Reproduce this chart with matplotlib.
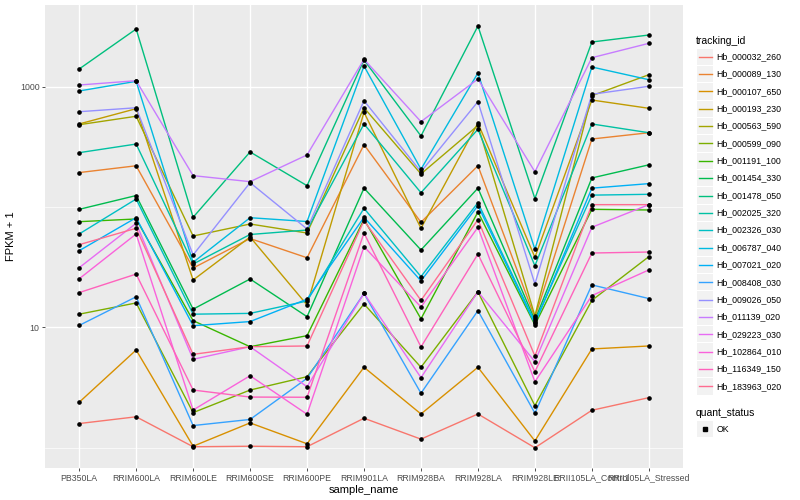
import numpy as np
import matplotlib
matplotlib.use("Agg")
import matplotlib.pyplot as plt
from matplotlib.lines import Line2D
from matplotlib.patches import Rectangle

plt.rcParams['font.family'] = ['Liberation Sans', 'DejaVu Sans']

samples = ["PB350LA", "RRIM600LA", "RRIM600LE", "RRIM600SE", "RRIM600PE",
           "RRIM901LA", "RRIM928BA", "RRIM928LA", "RRIM928LE",
           "RRII105LA_Control", "RRII105LA_Stressed"]

tracking_ids = ["Hb_000032_260", "Hb_000089_130", "Hb_000107_650", "Hb_000193_230",
                "Hb_000563_590", "Hb_000599_090", "Hb_001191_100", "Hb_001454_330",
                "Hb_001478_050", "Hb_002025_320", "Hb_002326_030", "Hb_006787_040",
                "Hb_007021_020", "Hb_008408_030", "Hb_009026_050", "Hb_011139_020",
                "Hb_029223_030", "Hb_102864_010", "Hb_116349_150", "Hb_183963_020"]

colors = ["#F8766D", "#EA8331", "#D89000", "#C09B00", "#A3A500", "#7CAE00", "#39B600",
          "#00BB4E", "#00BF7D", "#00C1A3", "#00BFC4", "#00BAE0", "#00B0F6", "#35A2FF",
          "#9590FF", "#C77CFF", "#E76BF3", "#FA62DB", "#FF62BC", "#FF6C91"]

# FPKM + 1 per sample (same order as samples)
hb_000032_260 = [1.59, 1.81, 1.02, 1.03, 1.02, 1.76, 1.18, 1.91, 1.00, 2.05, 2.61]
hb_000089_130 = [194, 221, 31.2, 54.9, 38.0, 331, 74.9, 221, 12.1, 369, 416]
hb_000107_650 = [2.39, 6.50, 1.03, 1.61, 1.08, 4.67, 1.91, 4.67, 1.14, 6.63, 7.02]
hb_000193_230 = [492, 659, 24.8, 56.5, 15.4, 615, 66.8, 501, 38.3, 778, 664]
hb_000563_590 = [485, 570, 57.6, 72.5, 61.0, 671, 189, 478, 12.5, 845, 1263]
hb_000599_090 = [12.9, 16.0, 1.96, 3.02, 3.90, 15.7, 4.67, 19.8, 2.24, 16.8, 38.8]
hb_001191_100 = [75.8, 79.8, 11.4, 6.92, 8.55, 79.3, 11.8, 91.2, 10.5, 96.0, 94.8]
hb_001454_330 = [96.0, 125, 14.2, 25.3, 12.3, 144, 44.1, 144, 11.5, 175, 225]
hb_001478_050 = [1409, 3029, 82.4, 288, 151, 1673, 391, 3208, 118, 2362, 2700]
hb_002025_320 = [284, 335, 33.7, 59.3, 64.6, 492, 132, 444, 32.6, 492, 416]
hb_002326_030 = [59.9, 117, 12.9, 13.1, 16.6, 97.9, 26.5, 109, 11.1, 126, 128]
hb_006787_040 = [925, 1113, 34.8, 81.8, 76.0, 1492, 207, 1305, 44.7, 1464, 1148]
hb_007021_020 = [43.5, 81.8, 10.35, 11.2, 17.2, 82.4, 24.4, 103, 10.8, 144, 157]
hb_008408_030 = [10.4, 18.0, 1.53, 1.72, 3.78, 19.2, 2.84, 13.8, 1.94, 22.6, 17.4]
hb_009026_050 = [622, 671, 40.1, 160, 65.9, 768, 197, 754, 23.0, 868, 1012]
hb_011139_020 = [1037, 1126, 183, 163, 272, 1696, 514, 1163, 197, 1749, 2303]
hb_029223_030 = [31.4, 73.5, 5.44, 6.92, 3.22, 19.2, 3.83, 19.8, 5.20, 68.1, 105]
hb_102864_010 = [25.4, 59.9, 2.06, 3.97, 1.90, 47.0, 14.8, 68.1, 3.54, 18.4, 30.1]
hb_116349_150 = [19.5, 27.8, 3.02, 2.64, 2.63, 61.0, 6.89, 40.8, 4.29, 41.6, 42.4]
hb_183963_020 = [48.8, 66.8, 5.98, 6.92, 7.02, 77.3, 16.8, 78.7, 5.79, 105, 105]

series = [hb_000032_260, hb_000089_130, hb_000107_650, hb_000193_230, hb_000563_590,
          hb_000599_090, hb_001191_100, hb_001454_330, hb_001478_050, hb_002025_320,
          hb_002326_030, hb_006787_040, hb_007021_020, hb_008408_030, hb_009026_050,
          hb_011139_020, hb_029223_030, hb_102864_010, hb_116349_150, hb_183963_020]

quant_status = ["OK"]

W, H = 800, 500
fig = plt.figure(figsize=(8, 5), dpi=100)
ax = fig.add_axes([45 / W, 1 - 468 / H, (683 - 45) / W, (468 - 5) / H])
ax.set_facecolor("#EBEBEB")
for s in ax.spines.values():
    s.set_visible(False)

x = np.arange(len(samples))
for vals, col in zip(series, colors):
    ax.plot(x, vals, color=col, lw=1.0, zorder=3)
for vals in series:
    ax.plot(x, vals, ls="none", marker="o", ms=2.3, color="black", zorder=4)

ax.set_yscale("log")
ax.set_xticks(x)
ax.set_xticklabels(samples)
ax.set_yticks([10, 1000])
ax.set_yticklabels(["10", "1000"])
ax.set_yticks([1, 100], minor=True)
ax.yaxis.set_minor_formatter(matplotlib.ticker.NullFormatter())
ax.set_ylim(0.679, 4797)
ax.set_xlim(-0.6, len(samples) - 0.4)
ax.tick_params(axis="both", which="major", length=2.5, width=0.6, color="#333333",
               labelsize=6.3, labelcolor="#4D4D4D", pad=1.5)
ax.tick_params(axis="y", which="minor", length=0)
ax.grid(True, which="major", color="white", lw=1.0, zorder=0)
ax.grid(True, which="minor", axis="y", color="white", lw=0.5, zorder=0)
ax.set_axisbelow(True)

ax.set_xlabel("sample_name", fontsize=8, labelpad=2)
ax.set_ylabel("FPKM + 1", fontsize=8, labelpad=3)

# legend drawn in figure pixel coordinates
def fx(px):
    return px / W

def fy(py):
    return 1 - py / H

fig.text(fx(696), fy(41), "tracking_id", fontsize=7.5, va="center", ha="left")
step = 17.35
for i, (tid, col) in enumerate(zip(tracking_ids, colors)):
    cy = 56.7 + i * step
    fig.patches.append(Rectangle((fx(697), fy(cy + step / 2 - 0.5)), 16 / W, (step - 1) / H,
                                 transform=fig.transFigure, facecolor="#F2F2F2",
                                 edgecolor="none"))
    fig.lines.append(Line2D([fx(698.5), fx(711.5)], [fy(cy), fy(cy)], color=col, lw=1.0,
                            transform=fig.transFigure))
    fig.text(fx(716.5), fy(cy), tid, fontsize=6.3, va="center", ha="left")

fig.text(fx(696), fy(412.5), "quant_status", fontsize=7.5, va="center", ha="left")
for j, q in enumerate(quant_status):
    cy = 429 + j * step
    fig.patches.append(Rectangle((fx(697), fy(cy + step / 2 - 0.5)), 16 / W, (step - 1) / H,
                                 transform=fig.transFigure, facecolor="#F2F2F2",
                                 edgecolor="none"))
    fig.lines.append(Line2D([fx(705)], [fy(cy)], marker="s", ms=2.2, color="black",
                            ls="none", transform=fig.transFigure))
    fig.text(fx(716.5), fy(cy), q, fontsize=6.3, va="center", ha="left")

fig.savefig("out.png", dpi=100, facecolor="white")
